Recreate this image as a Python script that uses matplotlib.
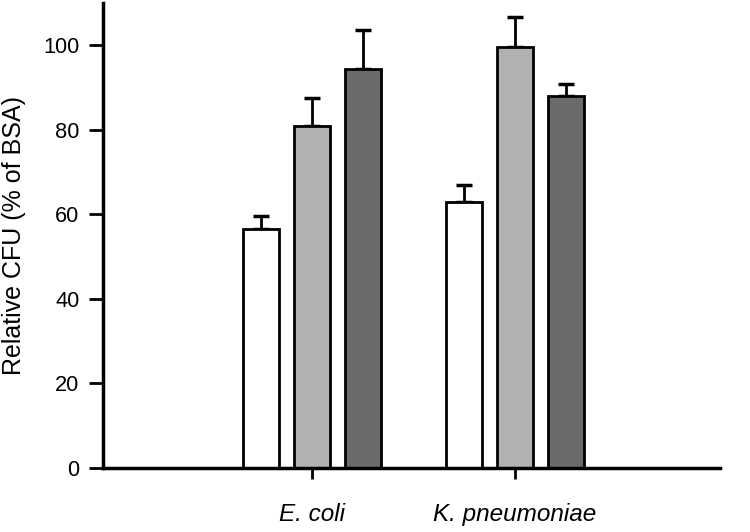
import numpy as np
import matplotlib.pyplot as plt

plt.rcParams['font.family'] = ['Liberation Sans', 'DejaVu Sans']

groups = ['E. coli', 'K. pneumoniae']
white_vals = [56.5, 63.0]
white_err = [3.0, 3.9]
light_vals = [81.0, 99.6]
light_err = [6.6, 7.2]
dark_vals = [94.5, 88.0]
dark_err = [9.2, 2.8]

fig = plt.figure(figsize=(7.5, 5.32), dpi=100)
ax = fig.add_axes([0.1373, 0.1203, 0.8227, 0.8741])

x = np.arange(len(groups))
w = 0.177
step = 0.251
series = [(white_vals, white_err, 'white'),
          (light_vals, light_err, '#b1b1b1'),
          (dark_vals, dark_err, '#6b6b6b')]
for i, (vals, errs, col) in enumerate(series):
    pos = x + (i - 1) * step
    ax.bar(pos, vals, width=w, color=col, edgecolor='black', linewidth=2, zorder=2)
    ax.errorbar(pos, vals, yerr=[np.zeros(len(errs)), errs], fmt='none',
                ecolor='black', elinewidth=2, capsize=6, capthick=2.5, zorder=1)

ax.set_xlim(-1.03, 2.01)
ax.set_ylim(0, 110)
ax.set_yticks([0, 20, 40, 60, 80, 100])
ax.set_xticks(x)
ax.set_xticklabels(groups, style='italic')
ax.set_ylabel('Relative CFU (% of BSA)', fontsize=18, labelpad=12)

ax.spines['top'].set_visible(False)
ax.spines['right'].set_visible(False)
ax.spines['left'].set_linewidth(2.5)
ax.spines['bottom'].set_linewidth(2.5)
ax.tick_params(axis='y', direction='out', length=10, width=2, labelsize=15.7, pad=7)
ax.tick_params(axis='x', direction='out', length=8, width=2, labelsize=17.5, pad=17)

fig.savefig('out.png', dpi=100)
